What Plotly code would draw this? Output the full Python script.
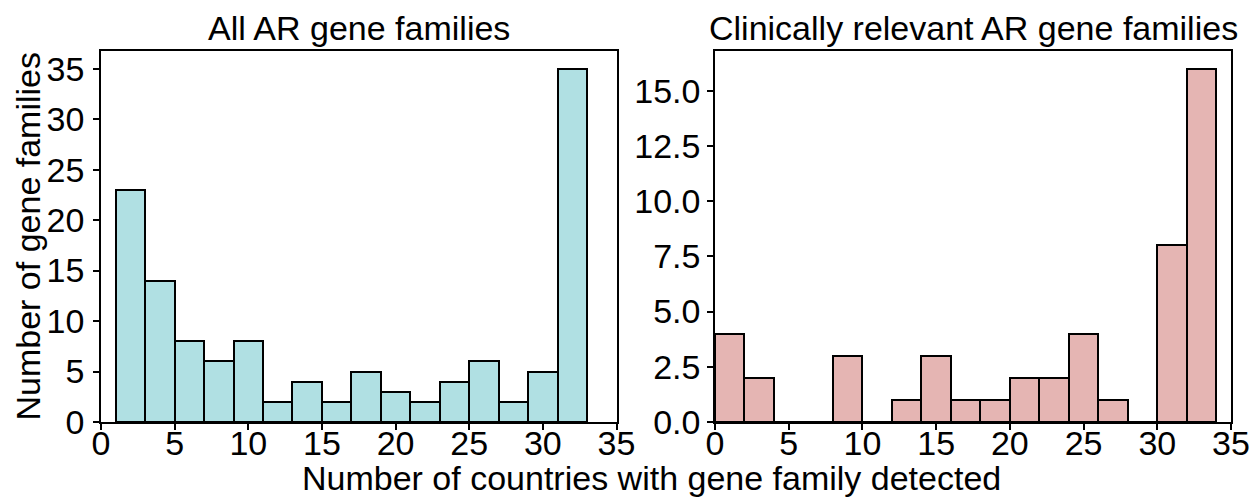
import plotly.graph_objects as go
from plotly.subplots import make_subplots

# Left histogram: all AR gene families (bins of width 2 starting at 1)
all_bin_edges = [1, 3, 5, 7, 9, 11, 13, 15, 17, 19, 21, 23, 25, 27, 29, 31, 33]
all_counts = [23, 14, 8, 6, 8, 2, 4, 2, 5, 3, 2, 4, 6, 2, 5, 35]

# Right histogram: clinically relevant AR gene families (bins of width 2 from 0)
clin_bin_edges = [0, 2, 4, 6, 8, 10, 12, 14, 16, 18, 20, 22, 24, 26, 28, 30, 32, 34]
clin_counts = [4, 2, 0, 0, 3, 0, 1, 3, 1, 1, 2, 2, 4, 1, 0, 8, 16]

titles = ["All AR gene families", "Clinically relevant AR gene families"]
x_title = "Number of countries with gene family detected"
y_title = "Number of gene families"

FONT = "Arial, 'Liberation Sans', sans-serif"
FS = 34

def centers(edges):
    return [(a + b) / 2 for a, b in zip(edges[:-1], edges[1:])]

def widths(edges):
    return [b - a for a, b in zip(edges[:-1], edges[1:])]

fig = make_subplots(rows=1, cols=2)

fig.add_trace(go.Bar(x=centers(all_bin_edges), y=all_counts, width=widths(all_bin_edges),
                     marker=dict(color="#b0e0e3", line=dict(color="black", width=2)),
                     showlegend=False), row=1, col=1)
fig.add_trace(go.Bar(x=centers(clin_bin_edges), y=clin_counts, width=widths(clin_bin_edges),
                     marker=dict(color="#e5b5b3", line=dict(color="black", width=2)),
                     showlegend=False), row=1, col=2)

axis_common = dict(showline=True, linecolor="black", linewidth=1.5, mirror=True,
                   ticks="outside", ticklen=6, tickwidth=1.5, tickcolor="black",
                   showgrid=False, zeroline=False, automargin=False,
                   tickfont=dict(family=FONT, size=FS, color="black"))

xticks = [0, 5, 10, 15, 20, 25, 30, 35]

W, H = 1255, 497
y0, y1 = 1 - 422 / H, 1 - 51 / H
fig.update_layout(
    width=W, height=H,
    margin=dict(l=0, r=0, t=0, b=0, pad=0),
    plot_bgcolor="white", paper_bgcolor="white",
    bargap=0,
    font=dict(family=FONT, size=FS, color="black"),
    xaxis=dict(domain=[101 / W, 616.5 / W], range=[0, 35], tickvals=xticks,
               ticklabelstandoff=-16, **axis_common),
    xaxis2=dict(domain=[715 / W, 1231 / W], range=[0, 35], tickvals=xticks,
                ticklabelstandoff=-16, **axis_common),
    yaxis=dict(domain=[y0, y1], range=[0, 36.75], tickvals=[0, 5, 10, 15, 20, 25, 30, 35],
               ticklabelstandoff=2, **axis_common),
    yaxis2=dict(domain=[y0, y1], range=[0, 16.8], tickvals=[0, 2.5, 5, 7.5, 10, 12.5, 15],
                tickformat=".1f", **axis_common),
)

fig.add_annotation(text=titles[0], x=358.5 / W, y=1 - 28 / H, xref="paper", yref="paper",
                   showarrow=False, xanchor="center", yanchor="middle",
                   font=dict(family=FONT, size=FS, color="black"))
fig.add_annotation(text=titles[1], x=973 / W, y=1 - 28 / H, xref="paper", yref="paper",
                   showarrow=False, xanchor="center", yanchor="middle",
                   font=dict(family=FONT, size=FS, color="black"))
fig.add_annotation(text=x_title, x=651 / W, y=1 - 478 / H, xref="paper", yref="paper",
                   showarrow=False, xanchor="center", yanchor="middle",
                   font=dict(family=FONT, size=FS, color="black"))
fig.add_annotation(text=y_title, x=27 / W, y=1 - 236.5 / H, xref="paper", yref="paper",
                   showarrow=False, xanchor="center", yanchor="middle", textangle=-90,
                   font=dict(family=FONT, size=FS, color="black"))

fig.write_html("out.html")
